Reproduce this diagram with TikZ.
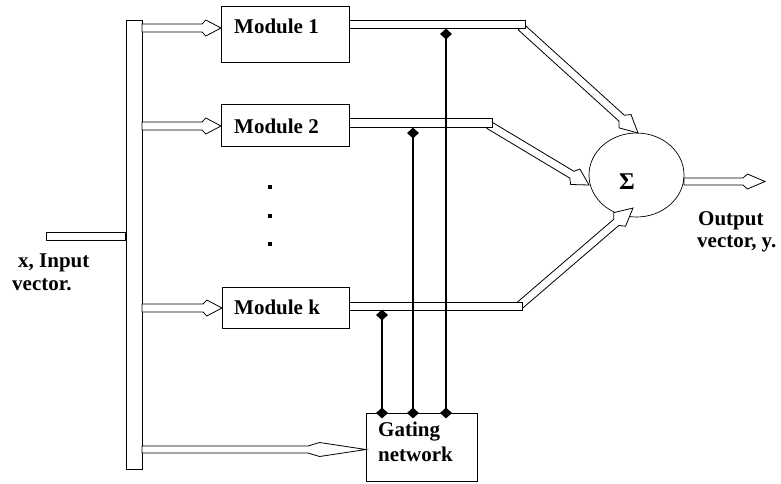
\documentclass[tikz,border=0pt]{standalone}
\usepackage{fontspec}
\setmainfont{Liberation Serif}
\usetikzlibrary{calc,shapes.geometric}
\newcommand{\hollowarrow}[5]{%
  \coordinate (hb) at ($(#2)!#5!(#1)$);
  \coordinate (hf) at ($(hb)!0.2!(#2)$);
  \draw[hol] ($(#1)!#3!90:(#2)$) -- ($(hb)!#3!90:(#2)$) -- ($(hf)!#4!90:(#2)$) -- (#2)
    -- ($(hf)!#4!-90:(#2)$) -- ($(hb)!#3!-90:(#2)$) -- ($(#1)!#3!-90:(#2)$) -- cycle;
}
\tikzset{
  hol/.style={draw, line width=0.8pt, fill=white, line join=miter},
  rbox/.style={draw, line width=1.1pt, fill=white, rectangle, inner sep=0pt},
  bbar/.style={draw, line width=0.9pt, fill=white, rectangle, inner sep=0pt},
  lbl/.style={font=\bfseries\fontsize{21}{23}\selectfont, inner sep=0pt},
  gl/.style={line width=1.4pt},
  dia/.style={diamond, fill=black, inner sep=0pt, minimum width=12pt, minimum height=11pt},
  dotsq/.style={fill=black, rectangle, inner sep=0pt, minimum size=4pt},
}
\begin{document}
\begin{tikzpicture}[x=1pt,y=-1pt]
\useasboundingbox (0,0) rectangle (781,483);
% input bus and stub
\node[bbar, minimum width=16pt, minimum height=449pt, anchor=north west] (bus) at (126,20) {};
\node[bbar, minimum width=79pt, minimum height=8pt, anchor=east] (xin) at (126,236) {};
\node[lbl, anchor=west] (xt1) at (18,263) {x, Input};
\node[lbl, anchor=west] (xt2) at (12,285) {vector.};
% modules
\node[rbox, minimum width=128pt, minimum height=56pt, anchor=north west] (m1) at (221,6) {};
\node[rbox, minimum width=128pt, minimum height=42pt, anchor=north west] (m2) at (221,104) {};
\node[rbox, minimum width=127pt, minimum height=41pt, anchor=north west] (mk) at (222,287) {};
\node[lbl, anchor=west] (m1t) at (234,26) {Module 1};
\node[lbl, anchor=west] (m2t) at (234,126) {Module 2};
\node[lbl, anchor=west] (mkt) at (234,307) {Module k};
\node[dotsq] (dt1) at (270,187) {};
\node[dotsq] (dt2) at (270,216) {};
\node[dotsq] (dt3) at (270,244) {};
% gating box
\node[rbox, minimum width=111pt, minimum height=68pt, anchor=north west] (gate) at (366,413) {};
\node[lbl, anchor=west] (gt1) at (378,432) {Gating};
\node[lbl, anchor=west] (gt2) at (378,454) {network};
% input arrows
\coordinate (a1s) at (142,28); \coordinate (a1t) at (221,28);
\coordinate (a2s) at (142,126); \coordinate (a2t) at (221,126);
\coordinate (aks) at (142,308); \coordinate (akt) at (222,308);
\coordinate (ags) at (142,449.5); \coordinate (agt) at (366,449.5);
\hollowarrow{a1s}{a1t}{4pt}{8pt}{19pt}
\hollowarrow{a2s}{a2t}{4pt}{8pt}{19pt}
\hollowarrow{aks}{akt}{4pt}{8pt}{19pt}
\hollowarrow{ags}{agt}{3.5pt}{7pt}{58pt}
% summing node
\node[ellipse, draw, line width=0.7pt, minimum width=95pt, minimum height=84pt, inner sep=0pt] (sum) at (636.5,175) {};
\node[font=\bfseries\fontsize{24}{26}\selectfont, inner sep=0pt] (sig) at (627,182) {Σ};
% diagonal arrows into sum
\coordinate (d1s) at (521,27); \coordinate (d1t) at (638,133);
\coordinate (d2s) at (489,125); \coordinate (d2t) at (589,185);
\coordinate (dks) at (519,306); \coordinate (dkt) at (633,208);
\hollowarrow{d1s}{d1t}{4pt}{9pt}{22pt}
\hollowarrow{d2s}{d2t}{4pt}{9pt}{20pt}
\hollowarrow{dks}{dkt}{4pt}{9pt}{22pt}
% module output bars
\node[bbar, minimum width=176pt, minimum height=8pt, anchor=west] (o1) at (349,24) {};
\node[bbar, minimum width=143pt, minimum height=9pt, anchor=west] (o2) at (349,123) {};
\node[bbar, minimum width=173pt, minimum height=8pt, anchor=west] (ok) at (349,306) {};
% output arrow
\coordinate (os) at (684,181.5); \coordinate (ot) at (765,181.5);
\hollowarrow{os}{ot}{3.5pt}{7.5pt}{22pt}
\node[lbl, anchor=west] (ot1) at (698,221) {Output};
\node[lbl, anchor=west] (ot2) at (697,244) {vector, y.};
% gating connections
\node[dia] (g1a) at (446,34) {};
\node[dia] (g1b) at (446,413) {};
\node[dia] (g2a) at (413,133) {};
\node[dia] (g2b) at (413,413) {};
\node[dia] (gka) at (382,315) {};
\node[dia] (gkb) at (382,413) {};
\draw[gl] (g1a.center) -- (g1b.center);
\draw[gl] (g2a.center) -- (g2b.center);
\draw[gl] (gka.center) -- (gkb.center);
\end{tikzpicture}
\end{document}
